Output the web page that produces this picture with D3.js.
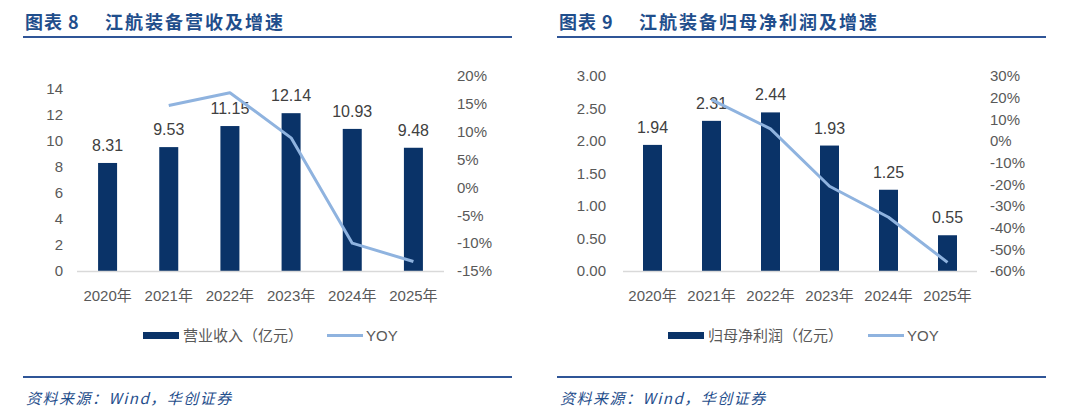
<!DOCTYPE html>
<html>
<head>
<meta charset="utf-8">
<script src="https://cdn.jsdelivr.net/npm/d3@7"></script>
<style>
  body { margin: 0; background: #fff; }
  svg { display: block; }
  text { font-family: "Liberation Sans", Arial, "Noto Sans CJK SC", sans-serif; }
  .cjk { font-family: "Liberation Sans", "Noto Sans CJK SC", sans-serif; }
</style>
</head>
<body>
<svg id="chart" width="1080" height="417"></svg>
<script>
// data
const years = ['2020年', '2021年', '2022年', '2023年', '2024年', '2025年']
const revenue = [8.31, 9.53, 11.15, 12.14, 10.93, 9.48]
const revenueYoy = [null, 14.7, 17.0, 8.9, -10.0, -13.3]
const profit = [1.94, 2.31, 2.44, 1.93, 1.25, 0.55]
const profitYoy = [null, 19.1, 5.6, -20.9, -35.2, -56.0]
const revTicks = [0, 2, 4, 6, 8, 10, 12, 14]
const revYoyTicks = [-15, -10, -5, 0, 5, 10, 15, 20]
const profitTicks = [0, 0.5, 1, 1.5, 2, 2.5, 3]
const profitYoyTicks = [-60, -50, -40, -30, -20, -10, 0, 10, 20, 30]

const BAR = '#0a3368'
const LINE = '#8fb3df'
const BLUE = '#1f4e8c'
const GRAY = '#595959'

const svg = d3.select('#chart')

function panel (opts) {
  const g = svg.append('g')
  const { x0, x1, plotL, plotR, legendName, lx, yoyLx } = opts
  const top = 76
  const bottom = 271

  // title + rules
  const t = g.append('text').attr('y', 29)
    .attr('fill', BLUE).attr('font-size', 18).attr('font-weight', 'bold')
    .style('font-family', '"Noto Sans CJK SC", sans-serif')
  t.append('tspan').attr('x', x0 + 2).attr('letter-spacing', 1).text('图表 ' + opts.num)
  t.append('tspan').attr('x', x0 + 82).attr('letter-spacing', 2).text(opts.title)
  g.append('line').attr('x1', x0).attr('x2', x1).attr('y1', 37).attr('y2', 37)
    .attr('stroke', '#2f5597').attr('stroke-width', 2)
  g.append('line').attr('x1', x0).attr('x2', x1).attr('y1', 377).attr('y2', 377)
    .attr('stroke', '#2f5597').attr('stroke-width', 2)
  g.append('text').attr('x', x0 + 3).attr('y', 404)
    .attr('fill', BLUE).attr('font-size', 15).attr('font-style', 'italic')
    .attr('letter-spacing', 1.5)
    .style('font-family', '"Noto Sans CJK SC", "Liberation Serif", serif')
    .text('资料来源：Wind，华创证券')

  const x = d3.scaleBand().domain(years).range([plotL, plotR])
  const y = d3.scaleLinear().domain(opts.yDomain).range([bottom, top])
  const y2 = d3.scaleLinear().domain(opts.y2Domain).range([bottom, top])

  // left axis
  const ax = g.append('g').attr('transform', `translate(${opts.leftLabelX},0)`)
    .call(d3.axisLeft(y).tickValues(opts.yTicks).tickSize(0).tickPadding(0)
      .tickFormat(opts.yFormat))
  ax.select('.domain').remove()
  ax.selectAll('text').attr('fill', GRAY).attr('font-size', 15)

  const ax2 = g.append('g').attr('transform', `translate(${opts.rightLabelX},0)`)
    .call(d3.axisRight(y2).tickValues(opts.y2Ticks).tickSize(0).tickPadding(0)
      .tickFormat(d => d + '%'))
  ax2.select('.domain').remove()
  ax2.selectAll('text').attr('fill', GRAY).attr('font-size', 15)

  // bars
  g.selectAll('rect.bar').data(opts.bars).enter().append('rect')
    .attr('class', 'bar')
    .attr('x', (d, i) => x(years[i]) + x.bandwidth() / 2 - 9.5)
    .attr('width', 19)
    .attr('y', d => y(d))
    .attr('height', d => bottom - y(d))
    .attr('fill', BAR)

  g.selectAll('text.lbl').data(opts.bars).enter().append('text')
    .attr('class', 'lbl')
    .attr('x', (d, i) => x(years[i]) + x.bandwidth() / 2)
    .attr('y', d => y(d) - 12)
    .attr('text-anchor', 'middle').attr('fill', '#404040').attr('font-size', 16)
    .text(d => d.toFixed(2))

  // x axis
  g.append('line').attr('x1', plotL).attr('x2', plotR).attr('y1', bottom + 0.5).attr('y2', bottom + 0.5)
    .attr('stroke', '#d9d9d9').attr('stroke-width', 1.5)
  g.selectAll('text.xl').data(years).enter().append('text')
    .attr('class', 'xl cjk')
    .attr('x', d => x(d) + x.bandwidth() / 2)
    .attr('y', 301)
    .attr('text-anchor', 'middle').attr('fill', GRAY).attr('font-size', 15)
    .text(d => d)

  // yoy line
  const line = d3.line()
    .defined(d => d != null)
    .x((d, i) => x(years[i]) + x.bandwidth() / 2)
    .y(d => y2(d))
  g.append('path').datum(opts.yoy)
    .attr('d', line).attr('fill', 'none')
    .attr('stroke', LINE).attr('stroke-width', 3).attr('stroke-linejoin', 'round')

  // legend
  g.append('rect').attr('x', lx).attr('y', 332).attr('width', 36).attr('height', 7).attr('fill', BAR)
  g.append('text').attr('class', 'cjk').attr('x', lx + 40).attr('y', 341)
    .attr('fill', GRAY).attr('font-size', 15).text(legendName)
  g.append('line').attr('x1', yoyLx).attr('x2', yoyLx + 36).attr('y1', 335.5).attr('y2', 335.5)
    .attr('stroke', LINE).attr('stroke-width', 3)
  g.append('text').attr('x', yoyLx + 39).attr('y', 341)
    .attr('fill', GRAY).attr('font-size', 15).text('YOY')
}

panel({
  x0: 23, x1: 512, plotL: 77, plotR: 444,
  num: '8', title: '江航装备营收及增速',
  legendName: '营业收入（亿元）', lx: 143, yoyLx: 327,
  yDomain: [0, 15], yTicks: revTicks, yFormat: d => d,
  y2Domain: [-15, 20], y2Ticks: revYoyTicks,
  leftLabelX: 63, rightLabelX: 457,
  bars: revenue, yoy: revenueYoy
})

panel({
  x0: 557, x1: 1046, plotL: 623, plotR: 977,
  num: '9', title: '江航装备归母净利润及增速',
  legendName: '归母净利润（亿元）', lx: 668, yoyLx: 868,
  yDomain: [0, 3], yTicks: profitTicks, yFormat: d => d.toFixed(2),
  y2Domain: [-60, 30], y2Ticks: profitYoyTicks,
  leftLabelX: 606, rightLabelX: 990,
  bars: profit, yoy: profitYoy
})
</script>
</body>
</html>
